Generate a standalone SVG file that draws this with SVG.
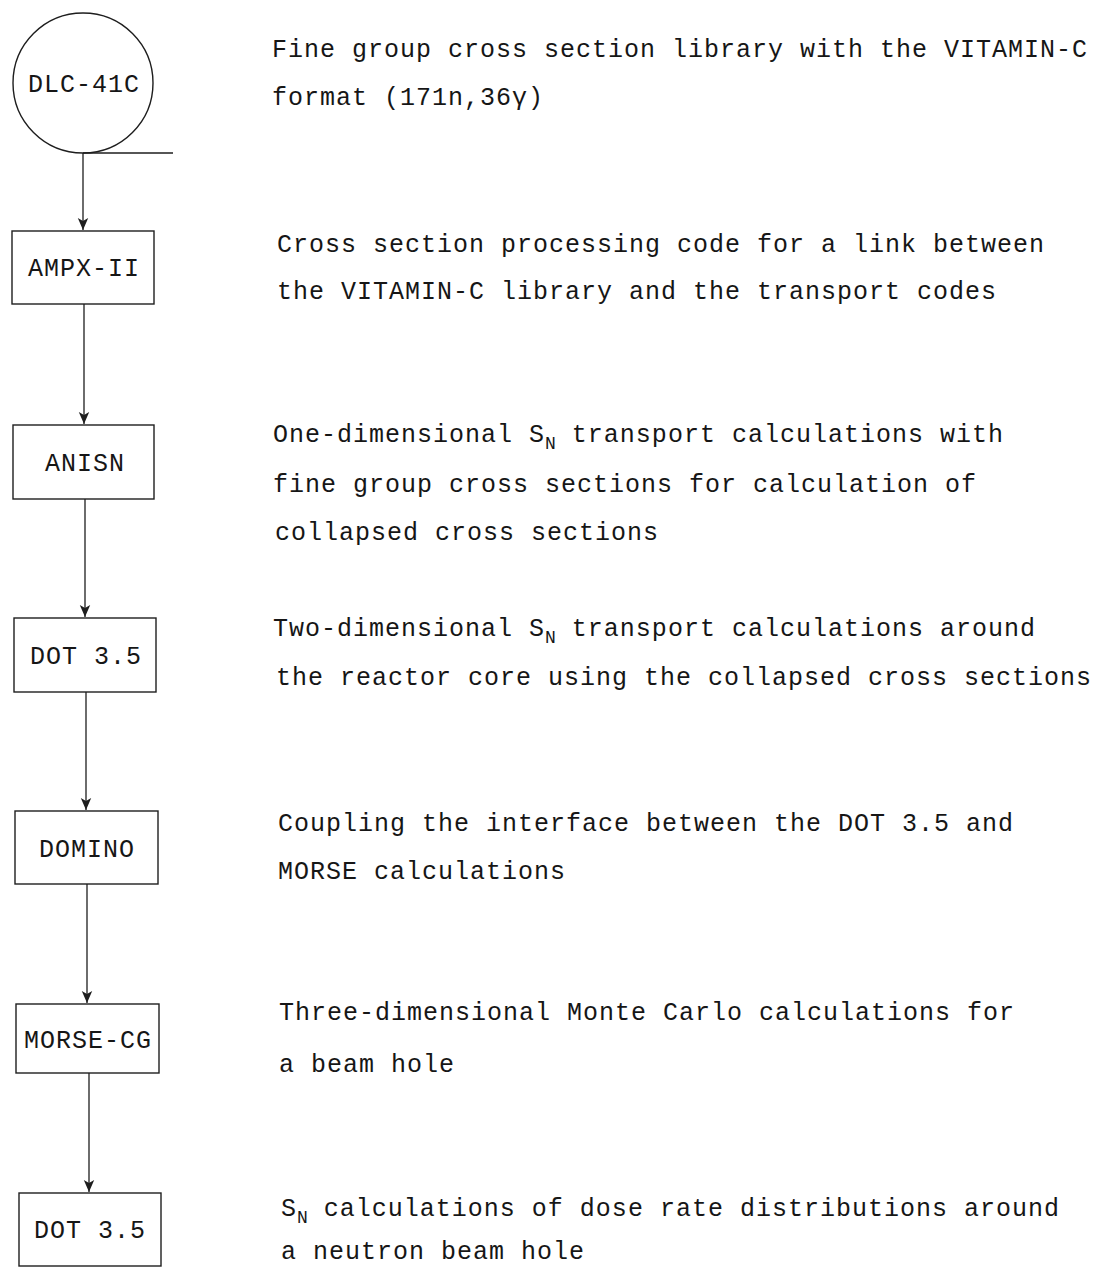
<svg xmlns="http://www.w3.org/2000/svg" width="1098" height="1267" viewBox="0 0 1098 1267">
  <style>
    .bg { fill: #ffffff; }
    .shape { fill: none; stroke: #1e1e1e; stroke-width: 1.4; }
    .conn { fill: none; stroke: #1e1e1e; stroke-width: 1.3; }
    text { font-family: "Liberation Mono", "DejaVu Sans Mono", monospace; font-size: 25px; letter-spacing: 1px; fill: #161616; }
    .lbl { text-anchor: middle; }
    .sub { font-size: 18px; letter-spacing: 0; }
  </style>
  <defs>
    <marker id="arrow" viewBox="0 0 12 12" refX="12" refY="6" markerWidth="12" markerHeight="12" markerUnits="userSpaceOnUse" orient="auto">
      <path d="M0,0.8 L12,6 L0,11.2 L3,6 Z" fill="#1e1e1e"/>
    </marker>
  </defs>
  <rect class="bg" x="0" y="0" width="1098" height="1267"/>

  <g id="connectors">
    <line class="conn" x1="83" y1="153" x2="83" y2="230" marker-end="url(#arrow)"/>
    <line class="conn" x1="84" y1="304" x2="84" y2="424" marker-end="url(#arrow)"/>
    <line class="conn" x1="85" y1="499" x2="85" y2="617" marker-end="url(#arrow)"/>
    <line class="conn" x1="86" y1="692" x2="86" y2="810" marker-end="url(#arrow)"/>
    <line class="conn" x1="87" y1="884" x2="87" y2="1003" marker-end="url(#arrow)"/>
    <line class="conn" x1="89" y1="1073" x2="89" y2="1192" marker-end="url(#arrow)"/>
  </g>

  <g id="node-dlc41c">
    <circle class="shape" cx="83" cy="83" r="70"/>
    <line class="shape" x1="83" y1="153" x2="173" y2="153"/>
    <text class="lbl" x="84" y="92">DLC-41C</text>
    <text x="272" y="57">Fine group cross section library with the VITAMIN-C</text>
    <text x="272" y="105">format (171n,36γ)</text>
  </g>

  <g id="node-ampx">
    <rect class="shape" x="12" y="231" width="142" height="73"/>
    <text class="lbl" x="84" y="276">AMPX-II</text>
    <text x="277" y="252">Cross section processing code for a link between</text>
    <text x="277" y="299">the VITAMIN-C library and the transport codes</text>
  </g>

  <g id="node-anisn">
    <rect class="shape" x="13" y="425" width="141" height="74"/>
    <text class="lbl" x="85" y="471">ANISN</text>
    <text x="273" y="442">One-dimensional S<tspan class="sub" dy="7">N</tspan><tspan dy="-7"> transport calculations with</tspan></text>
    <text x="273" y="492">fine group cross sections for calculation of</text>
    <text x="275" y="540">collapsed cross sections</text>
  </g>

  <g id="node-dot1">
    <rect class="shape" x="14" y="618" width="142" height="74"/>
    <text class="lbl" x="86" y="664">DOT 3.5</text>
    <text x="273" y="636">Two-dimensional S<tspan class="sub" dy="7">N</tspan><tspan dy="-7"> transport calculations around</tspan></text>
    <text x="276" y="685">the reactor core using the collapsed cross sections</text>
  </g>

  <g id="node-domino">
    <rect class="shape" x="15" y="811" width="143" height="73"/>
    <text class="lbl" x="87" y="857">DOMINO</text>
    <text x="278" y="831">Coupling the interface between the DOT 3.5 and</text>
    <text x="278" y="879">MORSE calculations</text>
  </g>

  <g id="node-morse">
    <rect class="shape" x="16" y="1004" width="143" height="69"/>
    <text class="lbl" x="88" y="1048">MORSE-CG</text>
    <text x="279" y="1020">Three-dimensional Monte Carlo calculations for</text>
    <text x="279" y="1072">a beam hole</text>
  </g>

  <g id="node-dot2">
    <rect class="shape" x="19" y="1193" width="142" height="73"/>
    <text class="lbl" x="90" y="1238">DOT 3.5</text>
    <text x="281" y="1216">S<tspan class="sub" dy="7">N</tspan><tspan dy="-7"> calculations of dose rate distributions around</tspan></text>
    <text x="281" y="1259">a neutron beam hole</text>
  </g>
</svg>
